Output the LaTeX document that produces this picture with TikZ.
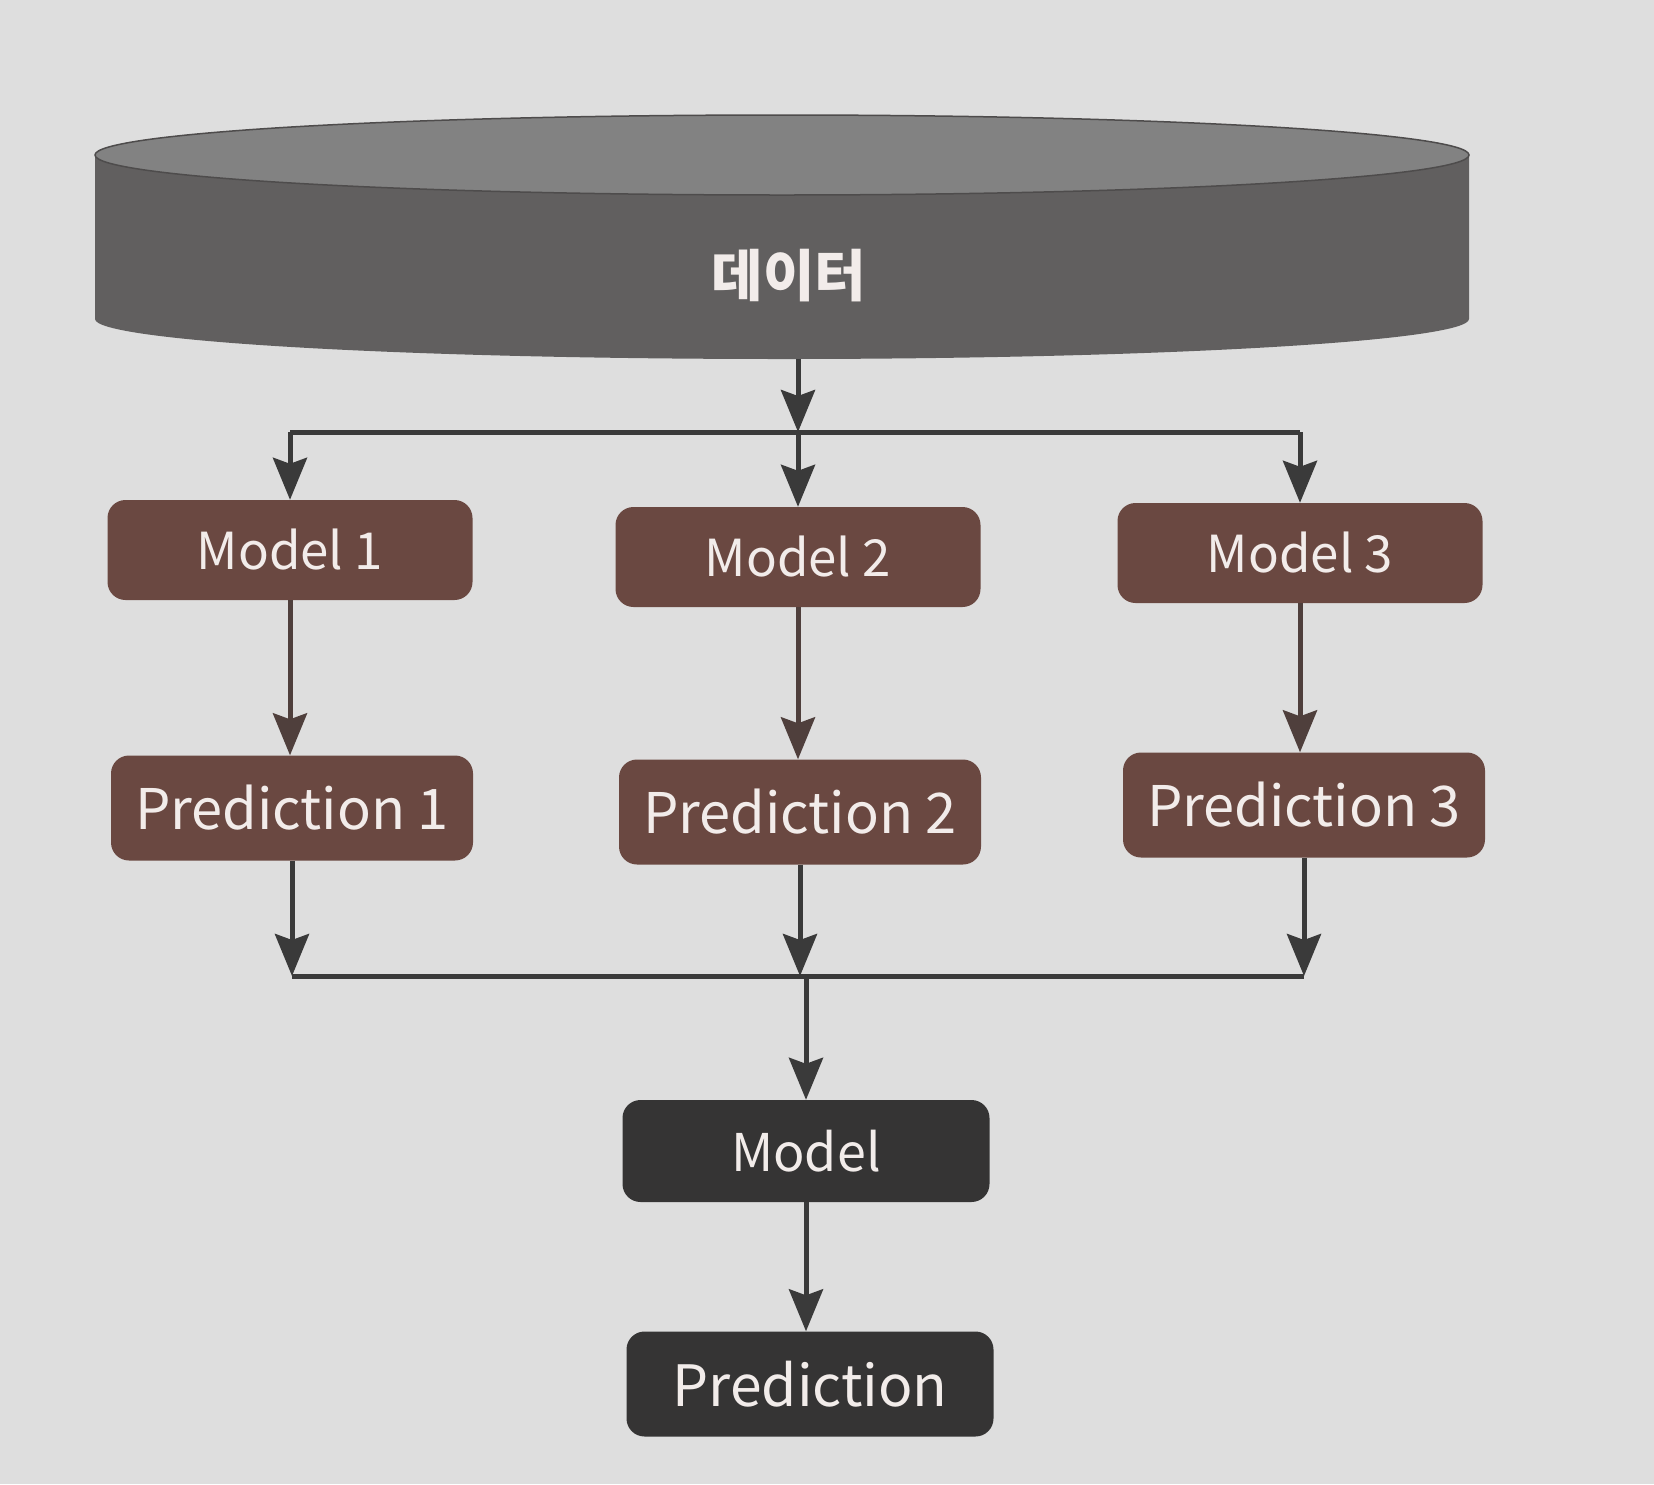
\documentclass[tikz,border=0pt]{standalone}
\usepackage{fontspec}
\setmainfont{Noto Sans CJK KR}
\usetikzlibrary{arrows.meta}
\definecolor{bg}{HTML}{DEDEDE}
\definecolor{brownbox}{HTML}{6A4841}
\definecolor{darkbox}{HTML}{353434}
\definecolor{cylside}{HTML}{615F5F}
\definecolor{cyltop}{HTML}{828282}
\definecolor{txt}{HTML}{F2ECEA}
\definecolor{arrbrown}{HTML}{4F3F3C}
\definecolor{arrdark}{HTML}{3A3A3A}
\begin{document}
\begin{tikzpicture}[x=1pt,y=-1pt,
 box/.style={rounded corners=18pt, text=txt, inner sep=0pt, align=center},
 mbox/.style={box, fill=brownbox, minimum width=365pt, minimum height=100pt, font=\fontsize{51}{60}\selectfont},
 pbox/.style={box, fill=brownbox, minimum width=362pt, minimum height=105pt, font=\fontsize{56}{66}\selectfont},
 fmbox/.style={box, fill=darkbox, minimum width=367pt, minimum height=102pt, font=\fontsize{52}{60}\selectfont},
 fpbox/.style={box, fill=darkbox, minimum width=367pt, minimum height=105pt, font=\fontsize{57}{66}\selectfont},
 arr/.style={line width=5pt, draw=arrdark, -{Stealth[length=42pt,width=34pt,inset=6pt]}},
 barr/.style={arr, draw=arrbrown},
 ln/.style={line width=5pt, draw=arrdark},
]
\fill[bg] (0,0) rectangle (1654,1484);
\useasboundingbox (0,0) rectangle (1654,1484);
% cylinder
\fill[cylside] (95,155) -- (95,319) arc[start angle=180, end angle=0, x radius=687, y radius=40]
  -- (1469,155) arc[start angle=0, end angle=-180, x radius=687, y radius=40] -- cycle;
\filldraw[fill=cyltop, draw=cylside!80!black, line width=1.5pt] (782,155) ellipse[x radius=687, y radius=40];
\node[text=txt, font=\fontsize{56}{64}\selectfont\bfseries] (data) at (789,276) {데이터};
\coordinate (cylbot) at (798,359);
% models
\node[mbox] (m1) at (290,550) {Model 1};
\node[mbox] (m2) at (798,557) {Model 2};
\node[mbox] (m3) at (1300,553) {Model 3};
\node[pbox] (p1) at (292,808) {Prediction 1};
\node[pbox] (p2) at (800,812) {Prediction 2};
\node[pbox] (p3) at (1304,805) {Prediction 3};
\node[fmbox] (fm) at (806,1151) {Model};
\node[fpbox] (fp) at (810,1384) {Prediction};
% top split
\coordinate (tl) at (290,432);
\coordinate (tm) at (798,432);
\coordinate (tr) at (1300,432);
\draw[ln] (tl) -- (tr);
\draw[arr] (cylbot) -- (tm);
\draw[arr] (tl) -- (m1.north);
\draw[arr] (tm) -- (m2.north);
\draw[arr] (tr) -- (m3.north);
% model -> prediction
\draw[barr] (m1.south) -- (m1.south |- p1.north);
\draw[barr] (m2.south) -- (m2.south |- p2.north);
\draw[barr] (m3.south) -- (m3.south |- p3.north);
% merge
\coordinate (bl) at (292,976);
\coordinate (bm) at (800,976);
\coordinate (br) at (1304,976);
\draw[ln] (bl) -- (br);
\draw[arr] (p1.south) -- (bl);
\draw[arr] (p2.south) -- (bm);
\draw[arr] (p3.south) -- (br);
\draw[arr] (bm -| fm.north) -- (fm.north);
\draw[arr] (fm.south) -- (fm.south |- fp.north);
\end{tikzpicture}
\end{document}
